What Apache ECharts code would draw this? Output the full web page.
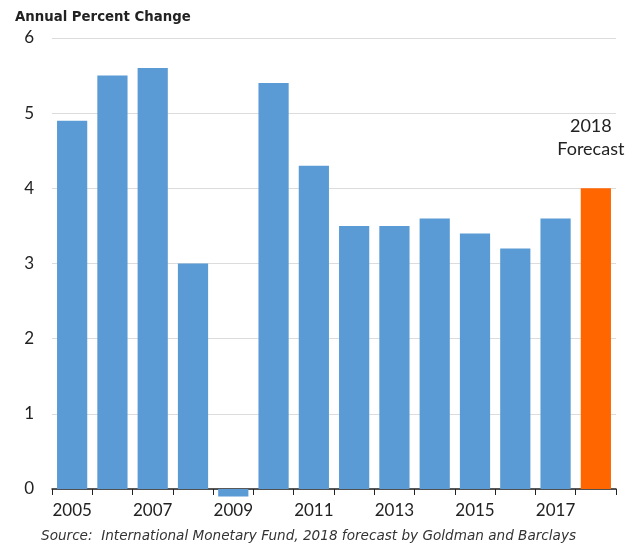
<!DOCTYPE html>
<html><head><meta charset="utf-8">
<script src="https://cdn.jsdelivr.net/npm/echarts@6/dist/echarts.min.js"></script>
<style>html,body{margin:0;padding:0;background:#fff}#c{width:629px;height:544px}</style>
</head><body><div id="c"></div>
<script>
const years = ['2005','2006','2007','2008','2009','2010','2011','2012','2013','2014','2015','2016','2017','2018'];
const growth = [4.9, 5.5, 5.6, 3.0, -0.1, 5.4, 4.3, 3.5, 3.5, 3.6, 3.4, 3.2, 3.6, 4.0];
const forecastYear = '2018';
const yTicks = [0, 1, 2, 3, 4, 5, 6];
const titleText = 'Annual Percent Change';
const sourceText = 'Source:  International Monetary Fund, 2018 forecast by Goldman and Barclays';
const forecastLabel = '2018\nForecast';

const chart = echarts.init(document.getElementById('c'));
const font = 'Lato, "DejaVu Sans", sans-serif';
const wide = '"DejaVu Sans", sans-serif';
chart.setOption({
  animation: false,
  grid: {left: 52, right: 13, top: 38, bottom: 55},
  title: [
    {text: titleText, left: 10, top: 6, textStyle: {fontFamily: wide, fontWeight: 'bold', fontSize: 13.3, color: '#222'}},
    {text: sourceText, left: 36, top: 524, textStyle: {fontFamily: wide, fontStyle: 'italic', fontWeight: 'normal', fontSize: 13.6, color: '#333'}}
  ],
  xAxis: {
    type: 'category', data: years,
    axisLine: {lineStyle: {color: '#222', width: 1.5}},
    axisTick: {show: true, alignWithLabel: false, interval: 0, length: 6, lineStyle: {color: '#222'}},
    axisLabel: {interval: 1, fontFamily: font, fontSize: 17, color: '#222', margin: 13}
  },
  yAxis: {
    type: 'value', min: 0, max: 6, interval: 1,
    axisLine: {show: false}, axisTick: {show: false},
    splitLine: {lineStyle: {color: '#dcdcdc'}},
    axisLabel: {fontFamily: font, fontSize: 17, color: '#222', margin: 18,
      formatter: v => yTicks.includes(v) ? String(v) : ''}
  },
  series: [{
    type: 'bar', barCategoryGap: '25%', clip: false,
    data: growth.map((v, i) => {
      const isF = years[i] === forecastYear;
      return {
        value: v,
        itemStyle: {color: isF ? '#ff6600' : '#5b9bd5'},
        label: isF ? {show: true, formatter: forecastLabel, position: 'top', distance: 28, offset: [-5, 0], fontFamily: font, fontSize: 18, color: '#222', lineHeight: 23, align: 'center'} : {show: false}
      };
    })
  }]
});
</script></body></html>
